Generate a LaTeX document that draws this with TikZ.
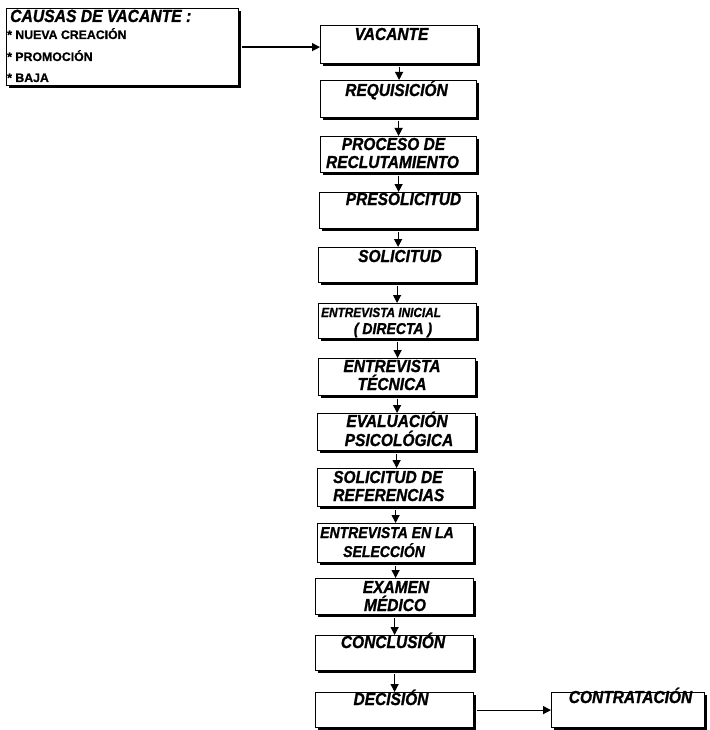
\documentclass[tikz,border=0pt]{standalone}
\usepackage{fontspec}
\usepackage{graphicx}
\setmainfont{Liberation Sans}[BoldItalicFeatures={FakeBold=1.2},BoldFeatures={FakeBold=0.8}]
\usetikzlibrary{arrows.meta,shadows}
\newcommand\tallt[1]{\scalebox{1}[1.12]{#1}}
\tikzset{
  box/.style={draw, line width=1.2pt, fill=white, inner sep=0pt, anchor=north west,
    drop shadow={shadow xshift=2.5pt, shadow yshift=-2.5pt, fill=black, opacity=1}},
  lbl/.style={font=\fontsize{15.5}{18}\selectfont\bfseries\itshape, inner sep=0pt, anchor=base},
  lblw/.style={lbl, anchor=base west},
  lblsm/.style={font=\fontsize{11.8}{14}\selectfont\bfseries\itshape, inner sep=0pt, anchor=base west},
  lblmd/.style={font=\fontsize{14}{16}\selectfont\bfseries\itshape, inner sep=0pt},
  item/.style={font=\fontsize{12.3}{14}\selectfont\bfseries, inner sep=0pt, anchor=base west},
  arr/.style={line width=1.2pt, -{Triangle[length=8pt,width=8pt]}}
}
\begin{document}
\begin{tikzpicture}[x=1pt,y=-1pt]
\useasboundingbox (0,0) rectangle (709,730);
% left box
\node[box, minimum width=232pt, minimum height=77pt] (causas) at (6,8) {};
\node[lblw, font=\fontsize{15.7}{18}\selectfont\bfseries\itshape] (ch) at (10,22) {\tallt{CAUSAS DE VACANTE :}};
\node[item] (i1) at (7,39) {* NUEVA CREACIÓN};
\node[item] (i2) at (7,61) {* PROMOCIÓN};
\node[item] (i3) at (7,82) {* BAJA};
% boxes
\node[box, minimum width=157pt, minimum height=38pt] (b1) at (320,25) {};
\node[box, minimum width=156pt, minimum height=37pt] (b2) at (320,80) {};
\node[box, minimum width=156pt, minimum height=36pt] (b3) at (320,136) {};
\node[box, minimum width=157pt, minimum height=36pt] (b4) at (319,192) {};
\node[box, minimum width=157pt, minimum height=35pt] (b5) at (318,247) {};
\node[box, minimum width=158pt, minimum height=35pt] (b6) at (318,303) {};
\node[box, minimum width=157pt, minimum height=37pt] (b7) at (318,358) {};
\node[box, minimum width=158pt, minimum height=37pt] (b8) at (317,413) {};
\node[box, minimum width=156pt, minimum height=38pt] (b9) at (317,468) {};
\node[box, minimum width=156pt, minimum height=39pt] (b10) at (317,523) {};
\node[box, minimum width=158pt, minimum height=36pt] (b11) at (315,578) {};
\node[box, minimum width=158pt, minimum height=35pt] (b12) at (315,635) {};
\node[box, minimum width=158pt, minimum height=35pt] (b13) at (315,692) {};
\node[box, minimum width=153pt, minimum height=35pt] (b14) at (551,692) {};
% labels
\node[lbl] (t1) at (391.5,40) {\tallt{VACANTE}};
\node[lbl] (t2) at (396.5,96) {\tallt{REQUISICIÓN}};
\node[lbl] (t3a) at (393.5,150) {\tallt{PROCESO DE}};
\node[lbl] (t3b) at (392.5,168) {\tallt{RECLUTAMIENTO}};
\node[lbl] (t4) at (403.5,205) {\tallt{PRESOLICITUD}};
\node[lbl] (t5) at (400,262) {\tallt{SOLICITUD}};
\node[lblsm] (t6a) at (321,317) {\tallt{ENTREVISTA INICIAL}};
\node[lblmd, anchor=base] (t6b) at (393,334) {\tallt{( DIRECTA )}};
\node[lbl] (t7a) at (392,372) {\tallt{ENTREVISTA}};
\node[lbl] (t7b) at (392,390) {\tallt{TÉCNICA}};
\node[lbl] (t8a) at (397,427) {\tallt{EVALUACIÓN}};
\node[lbl] (t8b) at (399,446) {\tallt{PSICOLÓGICA}};
\node[lblw] (t9a) at (333,483) {\tallt{SOLICITUD DE}};
\node[lblw] (t9b) at (333,501) {\tallt{REFERENCIAS}};
\node[lblmd, anchor=base west] (t10a) at (320,538) {\tallt{ENTREVISTA EN LA}};
\node[lblmd, anchor=base west] (t10b) at (343,557) {\tallt{SELECCIÓN}};
\node[lbl] (t11a) at (396,593) {\tallt{EXAMEN}};
\node[lbl] (t11b) at (395,611) {\tallt{MÉDICO}};
\node[lbl] (t12) at (393,648) {\tallt{CONCLUSIÓN}};
\node[lbl] (t13) at (391,705) {\tallt{DECISIÓN}};
\node[lbl] (t14) at (630.5,703) {\tallt{CONTRATACIÓN}};
% connectors
\draw[arr, shorten <=2.5pt] (causas.east) -- (causas.east -| b1.west);
\foreach \a/\b in {b1/b2,b2/b3,b3/b4,b4/b5,b5/b6,b6/b7,b7/b8,b8/b9,b9/b10,b10/b11,b11/b12,b12/b13}
  \draw[arr, shorten <=2.5pt] (\a.south) -- (\a.south |- \b.north);
\draw[arr, shorten <=3pt] (b13.east) -- (b13.east -| b14.west);
\end{tikzpicture}
\end{document}
